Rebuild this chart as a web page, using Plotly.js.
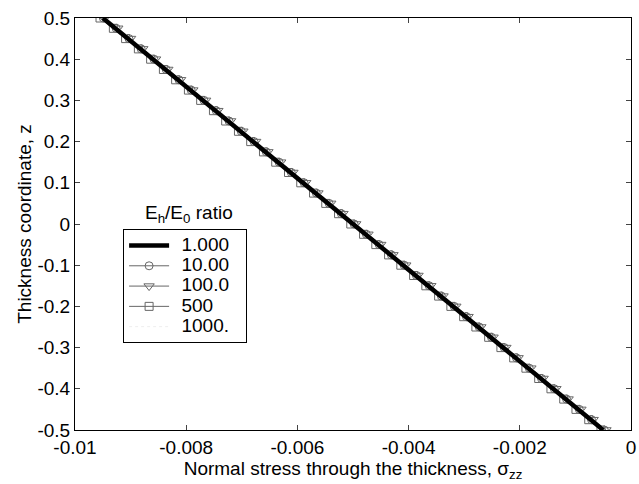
<!DOCTYPE html>
<html><head><meta charset="utf-8">
<script src="https://cdn.plot.ly/plotly-3.0.1.min.js"></script>
<style>html,body{margin:0;padding:0;background:#fff}#c{width:639px;height:484px}</style>
</head><body><div id="c"></div>
<script>
const zVals = [0.5,0.475,0.45,0.425,0.4,0.375,0.35,0.325,0.3,0.275,0.25,0.225,0.2,0.175,0.15,0.125,0.1,0.075,0.05,0.025,0,
  -0.025,-0.05,-0.075,-0.1,-0.125,-0.15,-0.175,-0.2,-0.225,-0.25,-0.275,-0.3,-0.325,-0.35,-0.375,-0.4,-0.425,-0.45,-0.475,-0.5];
const sig1 = [-0.0095,-0.009275,-0.00905,-0.008825,-0.0086,-0.008375,-0.00815,-0.007925,-0.0077,-0.007475,-0.00725,-0.007025,-0.0068,-0.006575,-0.00635,-0.006125,-0.0059,-0.005675,-0.00545,-0.005225,-0.005,
  -0.004775,-0.00455,-0.004325,-0.0041,-0.003875,-0.00365,-0.003425,-0.0032,-0.002975,-0.00275,-0.002525,-0.0023,-0.002075,-0.00185,-0.001625,-0.0014,-0.001175,-0.00095,-0.000725,-0.0005];
const sig10 = [-0.00949,-0.00926,-0.00903,-0.00881,-0.00858,-0.00836,-0.00813,-0.00791,-0.00768,-0.00746,-0.00723,-0.00701,-0.00678,-0.00656,-0.00633,-0.00611,-0.00588,-0.00566,-0.00543,-0.00521,-0.00498,
  -0.00476,-0.00453,-0.00431,-0.00408,-0.00386,-0.00363,-0.00341,-0.00318,-0.00296,-0.00273,-0.00251,-0.00228,-0.00206,-0.00183,-0.00161,-0.00138,-0.00116,-0.00093,-0.00071,-0.00048];
const sig100 = [-0.00946,-0.00923,-0.00900,-0.00878,-0.00855,-0.00833,-0.00810,-0.00788,-0.00765,-0.00743,-0.00720,-0.00698,-0.00675,-0.00653,-0.00630,-0.00608,-0.00585,-0.00563,-0.00540,-0.00518,-0.00495,
  -0.00473,-0.00450,-0.00428,-0.00405,-0.00383,-0.00360,-0.00338,-0.00315,-0.00293,-0.00270,-0.00248,-0.00225,-0.00203,-0.00180,-0.00158,-0.00135,-0.00113,-0.00090,-0.00068,-0.00045];
const sig500 = [-0.00955,-0.00931,-0.00909,-0.00886,-0.00864,-0.00841,-0.00819,-0.00796,-0.00774,-0.00751,-0.00729,-0.00706,-0.00684,-0.00661,-0.00639,-0.00616,-0.00594,-0.00571,-0.00549,-0.00526,-0.00504,
  -0.00481,-0.00459,-0.00436,-0.00414,-0.00391,-0.00369,-0.00346,-0.00324,-0.00301,-0.00279,-0.00256,-0.00234,-0.00211,-0.00189,-0.00166,-0.00144,-0.00121,-0.00099,-0.00076,-0.00054];
const sig1000 = [-0.00944,-0.00921,-0.00899,-0.00876,-0.00854,-0.00831,-0.00809,-0.00786,-0.00764,-0.00741,-0.00719,-0.00696,-0.00674,-0.00651,-0.00629,-0.00606,-0.00584,-0.00561,-0.00539,-0.00516,-0.00494,
  -0.00471,-0.00449,-0.00426,-0.00404,-0.00381,-0.00359,-0.00336,-0.00314,-0.00291,-0.00269,-0.00246,-0.00224,-0.00201,-0.00179,-0.00156,-0.00134,-0.00111,-0.00089,-0.00066,-0.00044];
const seriesNames = ['1.000','10.00','100.0','500','1000.'];
const xTicks = [-0.01,-0.008,-0.006,-0.004,-0.002,0];
const xTickText = ['-0.01','-0.008','-0.006','-0.004','-0.002','0'];
const yTicks = [-0.5,-0.4,-0.3,-0.2,-0.1,0,0.1,0.2,0.3,0.4,0.5];
const yTickText = ['-0.5','-0.4','-0.3','-0.2','-0.1','0','0.1','0.2','0.3','0.4','0.5'];

const gray = '#666';
const lbl = s => '&nbsp;&nbsp;<span style="font-size:19px">' + s + '</span>&nbsp;&nbsp;&nbsp;';
const traces = [
  {x: sig10, y: zVals, name: lbl(seriesNames[1]), mode:'lines+markers', line:{color:gray,width:1},
   marker:{symbol:'circle-open',size:8,color:gray,line:{width:1}}, legendrank:2},
  {x: sig100, y: zVals, name: lbl(seriesNames[2]), mode:'lines+markers', line:{color:gray,width:1},
   marker:{symbol:'triangle-down-open',size:9,color:gray,line:{width:1}}, legendrank:3},
  {x: sig500, y: zVals, name: lbl(seriesNames[3]), mode:'lines+markers', line:{color:gray,width:1},
   marker:{symbol:'square-open',size:8,color:gray,line:{width:1}}, legendrank:4},
  {x: sig1000, y: zVals, name: lbl(seriesNames[4]), mode:'lines', line:{color:'#eee',width:1,dash:'dot'}, legendrank:5},
  {x: sig1, y: zVals, name: lbl(seriesNames[0]), mode:'lines', line:{color:'#000',width:4.5}, legendrank:1}
];
const layout = {
  width:639, height:484,
  margin:{l:75,r:8,t:18,b:54},
  paper_bgcolor:'#fff', plot_bgcolor:'#fff',
  font:{family:'Liberation Sans, Arial, sans-serif', size:19, color:'#000'},
  showlegend:true,
  legend:{x:0.0865, y:0.487, xanchor:'left', yanchor:'top', bordercolor:'#000', borderwidth:1,
    bgcolor:'#fff', font:{size:13.3}, traceorder:'normal', itemwidth:40, tracegroupgap:0},
  xaxis:{range:[-0.01,0], tickvals:xTicks, ticktext:xTickText, ticks:'inside', ticklen:5,
    showline:true, linecolor:'#000', linewidth:1, mirror:'ticks', showgrid:false, zeroline:false,
    title:{text:'Normal stress through the thickness, σ<sub>zz</sub>', font:{size:19}, standoff:0}},
  yaxis:{range:[-0.5,0.5], tickvals:yTicks, ticktext:yTickText, ticks:'inside', ticklen:5,
    showline:true, linecolor:'#000', linewidth:1, mirror:'ticks', showgrid:false, zeroline:false,
    title:{text:'Thickness coordinate, z', font:{size:19}, standoff:0}},
  annotations:[{xref:'paper', yref:'paper', x:0.205, y:0.49, xanchor:'center', yanchor:'bottom',
    text:'E<sub>h</sub>/E<sub>0</sub> ratio', showarrow:false, font:{size:19}}]
};
Plotly.newPlot('c', traces, layout, {displayModeBar:false, staticPlot:true});
</script></body></html>
